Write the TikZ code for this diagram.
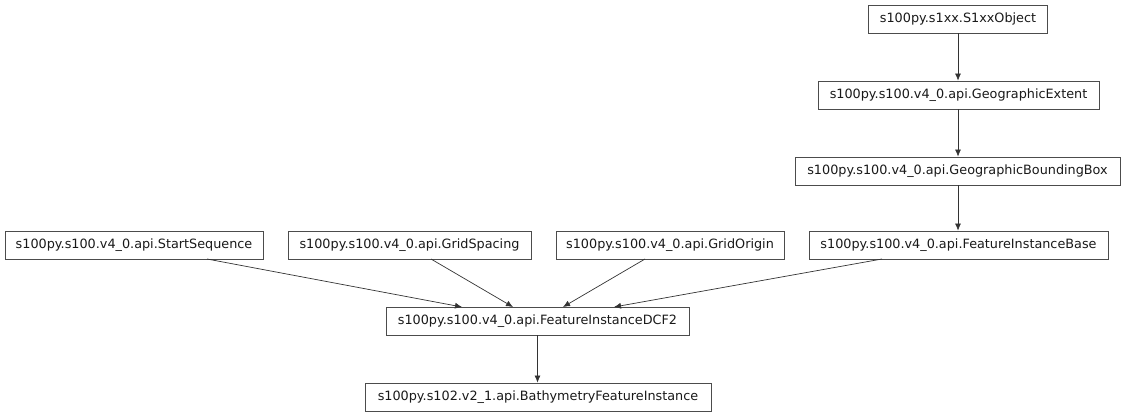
\documentclass[tikz,border=0pt]{standalone}
\usepackage{fontspec}
\setmainfont{DejaVu Sans}
\usetikzlibrary{arrows.meta}
\begin{document}
\begin{tikzpicture}[x=1pt,y=-1pt,
  cls/.style={draw=black!70, line width=0.8pt, minimum height=28pt, inner sep=0pt, font=\fontsize{12.8}{14}\selectfont, text=black!90},
  edge/.style={draw=black!80, line width=0.7pt, -{Latex[length=7pt,width=6pt]}}]
\useasboundingbox (0,0) rectangle (1126,417);
\node[cls, minimum width=179pt] (obj) at (958,19) {s100py.s1xx.S1xxObject};
\node[cls, minimum width=281pt] (ext) at (958.5,95) {s100py.s100.v4\_0.api.GeographicExtent};
\node[cls, minimum width=325pt] (bbox) at (957.5,171) {s100py.s100.v4\_0.api.GeographicBoundingBox};
\node[cls, minimum width=299pt] (fib) at (958.5,245) {s100py.s100.v4\_0.api.FeatureInstanceBase};
\node[cls, minimum width=258pt] (ss) at (134,245) {s100py.s100.v4\_0.api.StartSequence};
\node[cls, minimum width=243pt] (gs) at (409.5,245) {s100py.s100.v4\_0.api.GridSpacing};
\node[cls, minimum width=228pt] (go) at (670,245) {s100py.s100.v4\_0.api.GridOrigin};
\node[cls, minimum width=303pt] (dcf) at (537.5,321) {s100py.s100.v4\_0.api.FeatureInstanceDCF2};
\node[cls, minimum width=346pt] (bfi) at (538,397) {s100py.s102.v2\_1.api.BathymetryFeatureInstance};
\coordinate (d1) at (462,307);
\coordinate (d2) at (513,307);
\coordinate (d3) at (563,307);
\coordinate (d4) at (614,307);
\coordinate (s1) at (207,259);
\coordinate (s2) at (431,259);
\coordinate (s3) at (645,259);
\coordinate (s4) at (882,259);
\draw[edge] (obj.south) -- (obj.south |- ext.north);
\draw[edge] (obj.south |- ext.south) -- (obj.south |- bbox.north);
\draw[edge] (obj.south |- bbox.south) -- (obj.south |- fib.north);
\draw[edge] (s1) -- (d1);
\draw[edge] (s2) -- (d2);
\draw[edge] (s3) -- (d3);
\draw[edge] (s4) -- (d4);
\draw[edge] (dcf.south) -- (dcf.south |- bfi.north);
\end{tikzpicture}
\end{document}
